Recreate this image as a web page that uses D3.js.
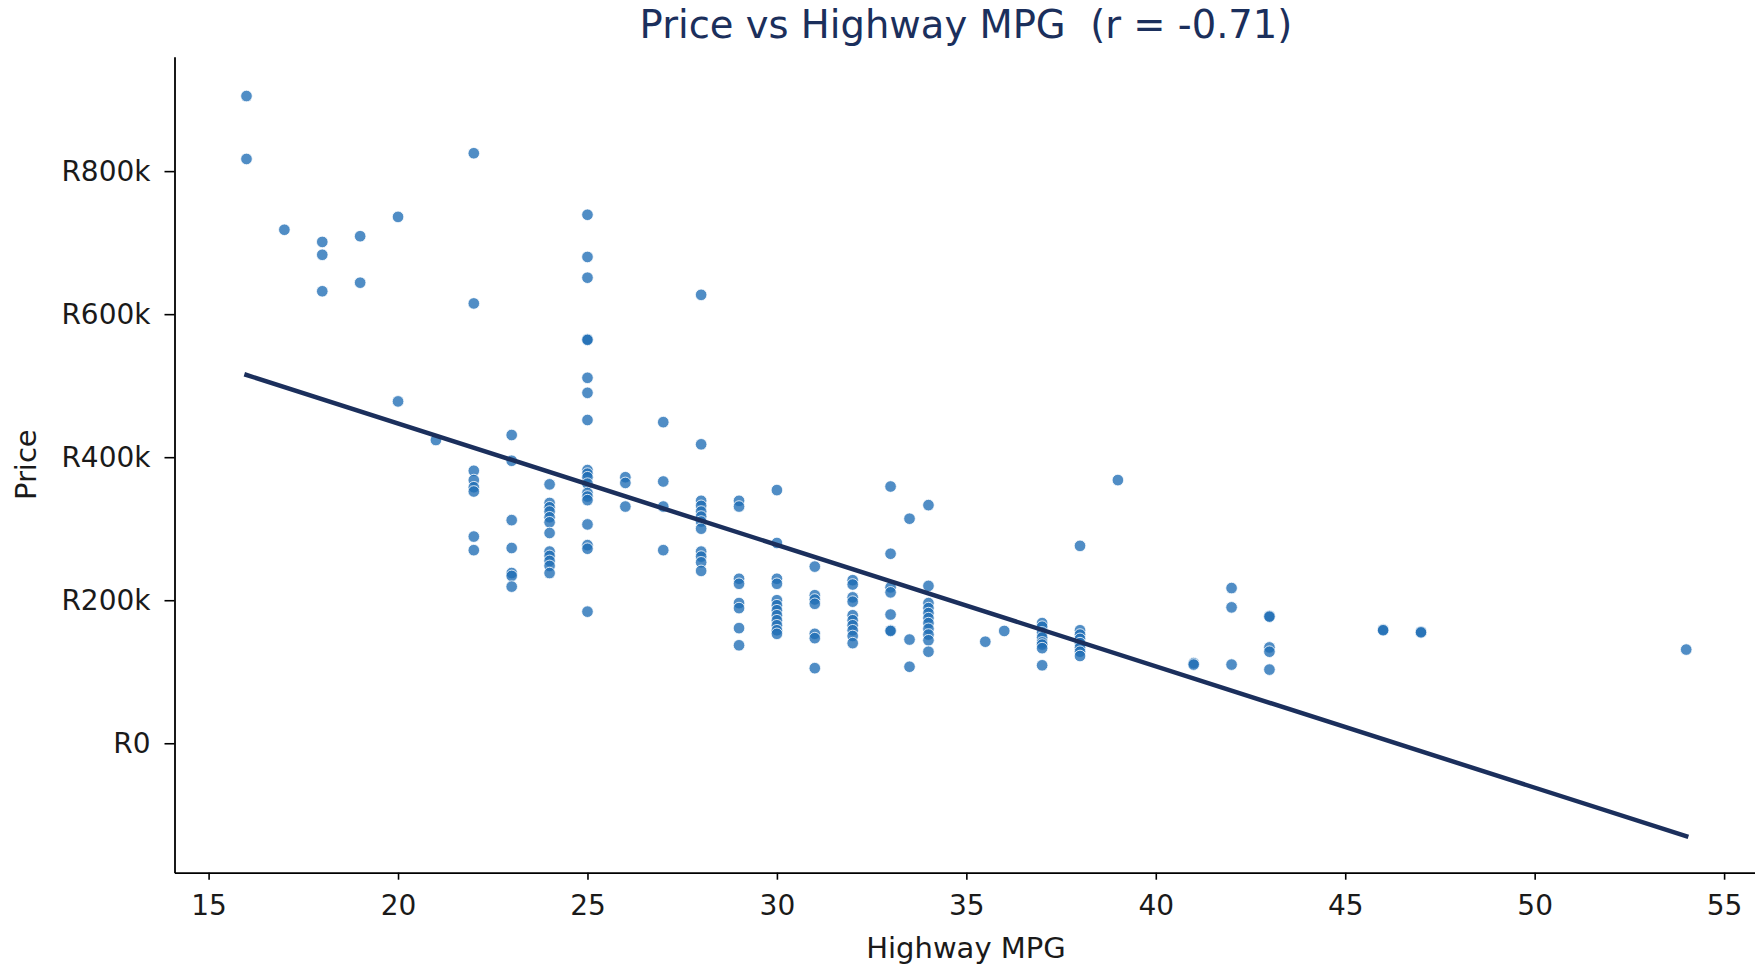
<!DOCTYPE html>
<html>
<head>
  <meta charset="utf-8">
  <title>Price vs Highway MPG</title>
  <script src="https://d3js.org/d3.v7.min.js"></script>
  <style>
    body { margin: 0; background: #fff; }
    svg { display: block; font-family: "DejaVu Sans", sans-serif; }
  </style>
</head>
<body>
  <svg id="grafico"></svg>

  <script>
    // highway mpg values present in the data
    const mpgLevels = [16, 17, 18, 19, 20, 21, 22, 23, 24, 25, 26, 27, 28, 29, 30, 31, 32, 33, 33.5, 34,
                       35.5, 36, 37, 38, 39, 41, 42, 43, 46, 47, 54];

    // prices (thousand rand) of the cars at each mpg level, same order as mpgLevels
    const pricesK = [
      [905, 817],
      [718],
      [701, 683, 632],
      [709, 644],
      [736, 478],
      [424],
      [825, 615, 381, 368, 358, 352, 289, 270],
      [431, 395, 312, 273, 238, 234, 219],
      [362, 336, 330, 324, 316, 309, 294, 268, 262, 255, 248, 238],
      [739, 680, 651, 565, 564, 511, 490, 452, 382, 377, 372, 363, 350, 345, 340, 306, 277, 272, 184],
      [372, 364, 331],
      [449, 366, 331, 270],
      [627, 418, 339, 332, 324, 317, 310, 300, 268, 261, 253, 241],
      [339, 331, 230, 223, 196, 189, 161, 137],
      [354, 280, 230, 223, 200, 193, 186, 179, 172, 165, 158, 153],
      [247, 207, 201, 195, 153, 147, 105],
      [228, 222, 204, 198, 179, 172, 165, 158, 150, 140],
      [359, 265, 218, 211, 180, 158, 157],
      [314, 145, 107],
      [333, 220, 196, 189, 182, 175, 168, 160, 152, 144, 128],
      [142],
      [157],
      [168, 163, 155, 148, 141, 138, 133, 109],
      [276, 158, 152, 146, 140, 134, 128, 122],
      [368],
      [112, 110],
      [217, 190, 110],
      [178, 177, 134, 128, 103],
      [159, 158],
      [156, 155],
      [131]
    ];

    // regression line end points
    const fitMpg = [16, 54];
    const fitPriceK = [515, -130];

    const xTicks = [15, 20, 25, 30, 35, 40, 45, 50, 55];
    const yTicks = [0, 200, 400, 600, 800];

    const titulo = "Price vs Highway MPG  (r = -0.71)";
    const xLabel = "Highway MPG";
    const yLabel = "Price";

    const width = 1755;
    const height = 968;

    const svg = d3.select("#grafico")
      .attr("width", width)
      .attr("height", height);

    const x = d3.scaleLinear()
      .domain([14.1, 55.9])
      .range([174.5, 1758.2]);

    const y = d3.scaleLinear()
      .domain([-181, 960])
      .range([872.7, 56.7]);

    const pontos = mpgLevels.flatMap((m, i) => pricesK[i].map(p => ({ mpg: m, price: p })));

    // eixos
    const xAxis = d3.axisBottom(x)
      .tickValues(xTicks)
      .tickSize(7)
      .tickSizeOuter(0)
      .tickPadding(15)
      .tickFormat(d3.format("d"));

    const yAxis = d3.axisLeft(y)
      .tickValues(yTicks)
      .tickSize(10)
      .tickSizeOuter(0)
      .tickPadding(14)
      .tickFormat(d => d === 0 ? "R0" : `R${d}k`);

    const gx = svg.append("g")
      .attr("transform", `translate(0,${y.range()[0]})`)
      .call(xAxis);

    const gy = svg.append("g")
      .attr("transform", `translate(${x.range()[0]},0)`)
      .call(yAxis);

    [gx, gy].forEach(g => {
      g.select(".domain").attr("stroke", "#000").attr("stroke-width", 1.8);
      g.selectAll(".tick line").attr("stroke", "#000").attr("stroke-width", 1.6);
      g.selectAll(".tick text")
        .attr("fill", "#1a1a1a")
        .style("font-family", "DejaVu Sans")
        .style("font-size", "28px");
    });

    // pontos
    svg.append("g")
      .selectAll("circle")
      .data(pontos)
      .enter().append("circle")
      .attr("cx", d => x(d.mpg))
      .attr("cy", d => y(d.price))
      .attr("r", 5.8)
      .attr("fill", "#1f6db5")
      .attr("fill-opacity", 0.78)
      .attr("stroke", "#fff")
      .attr("stroke-width", 0.8);

    // linha de regressao
    const linha = d3.line()
      .x(d => x(d[0]))
      .y(d => y(d[1]));

    svg.append("path")
      .datum(fitMpg.map((m, i) => [m, fitPriceK[i]]))
      .attr("d", linha)
      .attr("fill", "none")
      .attr("stroke", "#1b2f5c")
      .attr("stroke-width", 4.5)
      .attr("stroke-linecap", "square");

    // textos
    svg.append("text")
      .attr("x", 966)
      .attr("y", 38)
      .attr("text-anchor", "middle")
      .style("white-space", "pre")
      .style("font-size", "38.5px")
      .attr("fill", "#1b2f5c")
      .text(titulo);

    svg.append("text")
      .attr("x", 966)
      .attr("y", 958)
      .attr("text-anchor", "middle")
      .style("font-size", "29px")
      .attr("fill", "#1a1a1a")
      .text(xLabel);

    svg.append("text")
      .attr("transform", `translate(36,${(y.range()[0] + y.range()[1]) / 2}) rotate(-90)`)
      .attr("text-anchor", "middle")
      .style("font-size", "29px")
      .attr("fill", "#1a1a1a")
      .text(yLabel);
  </script>
</body>
</html>
